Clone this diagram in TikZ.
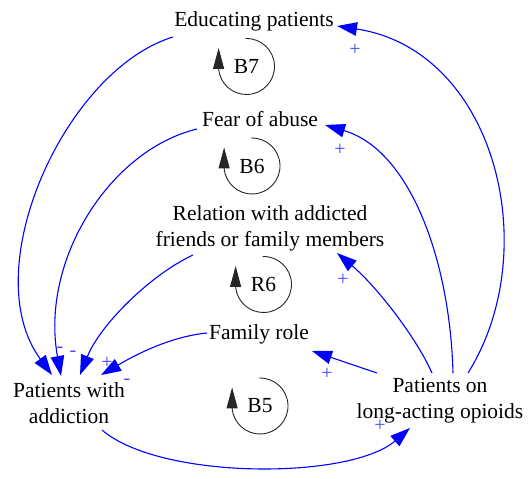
\documentclass[tikz,border=0pt]{standalone}
\usepackage{fontspec}
\setmainfont{Liberation Serif}
\usetikzlibrary{arrows.meta}
\definecolor{lnkc}{RGB}{0,0,255}
\definecolor{polc}{RGB}{70,70,255}
\begin{document}
\begin{tikzpicture}[x=1pt,y=-1pt,
  var/.style={font=\fontsize{21.5}{26}\selectfont, align=center, inner sep=0pt},
  lnk/.style={draw=lnkc, line width=1.1pt, -{Triangle[length=20pt,width=13.5pt]}},
  looplbl/.style={font=\fontsize{21.5}{26}\selectfont, inner sep=0pt},
  loopc/.style={draw=black!85, line width=0.9pt, -{Triangle[length=21pt,width=11pt]}},
  pls/.style={text=polc, font=\fontsize{20}{20}\selectfont, inner sep=0pt}]
\useasboundingbox[fill=white] (0,0) rectangle (530,479);

% variables
\node[var] (edu)  at (254,21)  {Educating patients};
\node[var] (fear) at (260,119) {Fear of abuse};
\node[var] (rel)  at (270,228) {Relation with addicted\\friends or family members};
\node[var] (fam)  at (259,334) {Family role};
\node[var] (pwa)  at (69,403)  {Patients with\\addiction};
\node[var] (plo)  at (440,401) {Patients on\\long-acting opioids};

% loop labels
\node[looplbl] (b7) at (246.5,66.5) {B7};
\node[looplbl] (b6) at (252,166)   {B6};
\node[looplbl] (r6) at (263.5,284.5) {R6};
\node[looplbl] (b5) at (260,406)   {B5};

\foreach \l in {b7,b6,r6,b5}{
  \draw[loopc] ([shift={(-92:28)}]\l.center) arc[start angle=-92,end angle=175,radius=28] -- ++(0,-21);
}

% connectors into Patients with addiction
\draw[lnk] ([shift={(-81,16)}]edu.center) .. controls (65,70) and (-25,270) .. ([shift={(-17,-28)}]pwa.center);
\draw[lnk] ([shift={(-63,10)}]fear.center) .. controls (110,150) and (40,260) .. ([shift={(-8,-27)}]pwa.center);
\draw[lnk] ([shift={(-77,27)}]rel.center) .. controls (150,275) and (100,325) .. ([shift={(11,-28)}]pwa.center);
\draw[lnk] ([shift={(-52,-1)}]fam.center) .. controls (165,337) and (125,361) .. ([shift={(32,-28)}]pwa.center);

% addiction -> opioids
\draw[lnk] ([shift={(33,27)}]pwa.center) .. controls (160,480) and (350,480) .. ([shift={(-30,27)}]plo.center);

% from opioids
\draw[lnk] ([shift={(-63,-28)}]plo.center) -- ([shift={(53,17)}]fam.center);
\draw[lnk] ([shift={(-8,-28)}]plo.center) .. controls (415,335) and (375,285) .. ([shift={(67,25)}]rel.center);
\draw[lnk] ([shift={(13,-28)}]plo.center) .. controls (450,260) and (410,150) .. ([shift={(65,6)}]fear.center);
\draw[lnk] ([shift={(28,-28)}]plo.center) .. controls (545,250) and (495,50) .. ([shift={(83,5)}]edu.center);

% polarity signs
\node[pls] (p1) at (355,50)  {+};
\node[pls] (p2) at (340,150) {+};
\node[pls] (p3) at (343,280) {+};
\node[pls] (p4) at (327,374) {+};
\node[pls] (p5) at (380,426) {+};
\node[pls] (p6) at (107,363) {+};
\node[pls] (m1) at (60,350)  {-};
\node[pls] (m2) at (73,354)  {-};
\node[pls] (m3) at (127,382) {-};
\end{tikzpicture}
\end{document}
